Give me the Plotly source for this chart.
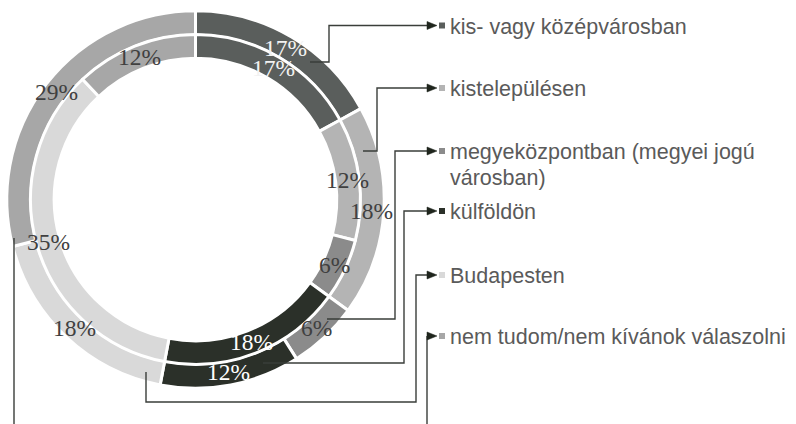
import math
import plotly.graph_objects as go

# ---- data ----
categories = ["kis- vagy középvárosban", "kistelepülésen",
              "megyeközpontban (megyei jogú városban)", "külföldön",
              "Budapesten", "nem tudom/nem kívánok válaszolni"]
outer_values = [17, 18, 6, 12, 18, 29]
inner_values = [17, 12, 6, 18, 35, 12]
legend_lines = [["kis- vagy középvárosban"], ["kistelepülésen"],
                ["megyeközpontban (megyei jogú", "városban)"], ["külföldön"],
                ["Budapesten"], ["nem tudom/nem kívánok válaszolni"]]

# ---- style / layout ----
W, H = 796, 424
colors = ["#5a5e5c", "#b4b4b4", "#8b8b8b", "#2b3029", "#d9d9d9", "#a7a7a7"]
label_colors = ["#f2f2f2", "#404040", "#404040", "#ffffff", "#404040", "#404040"]
CX, CY = 195.5, 199.5
GAP = 3
R_OUT_VIS, R_OUT_HOLE_VIS = 187.2, 166.0
R_IN_VIS, R_IN_HOLE_VIS = 163.5, 142.8
LINE_COLOR = "#3a3e3a"
arrow_y = [25.5, 88, 151, 211, 275, 336]
ARROW_X0, ARROW_X1 = 427, 437
SQ_X = 442
TEXT_X = 448
LINE_H = 26
leaders = [
    [(310, 62), (329, 62), (329, 25.5)],
    [(363, 151), (377, 151), (377, 88)],
    [(327, 319), (395, 319), (395, 151)],
    [(263, 363), (404, 363), (404, 211)],
    [(146, 372), (146, 402), (416, 402), (416, 275)],
    [(14, 238), (14, 440), (427, 440), (427, 336)],
]


def domain_for(r):
    return dict(x=[(CX - r) / W, (CX + r) / W],
                y=[1 - (CY + r) / H, 1 - (CY - r) / H])


fig = go.Figure()

r_out = R_OUT_VIS + GAP / 2
hole_out = (R_OUT_HOLE_VIS - GAP / 2) / r_out
r_in = R_IN_VIS + GAP / 2
hole_in = (R_IN_HOLE_VIS - GAP / 2) / r_in

for vals, r, hole in [(outer_values, r_out, hole_out), (inner_values, r_in, hole_in)]:
    fig.add_trace(go.Pie(
        labels=categories, values=vals, sort=False, direction="clockwise",
        rotation=0, hole=hole, domain=domain_for(r), textinfo="none",
        marker=dict(colors=colors, line=dict(color="white", width=GAP)),
        showlegend=False, hoverinfo="label+percent"))

# legend squares (also establishes the pixel-space cartesian axes)
fig.add_trace(go.Scatter(
    x=[SQ_X] * len(categories), y=arrow_y, mode="markers",
    marker=dict(symbol="square", size=6, color=colors, line=dict(width=0)),
    showlegend=False, hoverinfo="skip"))

annotations = []
# percent labels at slice mid-angles, ring centre radii
for vals, rmid in [(outer_values, (R_OUT_VIS + R_OUT_HOLE_VIS) / 2 - 0.5),
                   (inner_values, (R_IN_VIS + R_IN_HOLE_VIS) / 2)]:
    total = sum(vals)
    cum = 0
    for i, v in enumerate(vals):
        th = 2 * math.pi * (cum + v / 2) / total
        cum += v
        annotations.append(dict(
            x=CX + rmid * math.sin(th), y=CY - rmid * math.cos(th),
            xref="x", yref="y", text=f"{round(100 * v / total)}%",
            showarrow=False, xanchor="center", yanchor="middle",
            font=dict(family="Liberation Serif", size=23.5, color=label_colors[i])))

# legend texts
for i, lines in enumerate(legend_lines):
    for j, t in enumerate(lines):
        annotations.append(dict(
            x=TEXT_X, y=arrow_y[i] + 1 + j * LINE_H, xref="x", yref="y",
            text=t, showarrow=False, xanchor="left", yanchor="middle",
            font=dict(family="Liberation Sans", size=21.5, color="#5a5a5a")))

shapes = []
for i, pts in enumerate(leaders):
    path = "M{},{}".format(*pts[0])
    for p in pts[1:]:
        path += " L{},{}".format(*p)
    path += " L{},{}".format(ARROW_X0, arrow_y[i])
    shapes.append(dict(type="path", path=path, xref="x", yref="y", layer="above",
                       line=dict(color=LINE_COLOR, width=1.4)))
    ay = arrow_y[i]
    shapes.append(dict(type="path", xref="x", yref="y", layer="above",
                       path=f"M{ARROW_X0},{ay - 4} L{ARROW_X1},{ay} L{ARROW_X0},{ay + 4} Z",
                       fillcolor="#1f251d", line=dict(color="#1f251d", width=0.5)))

fig.update_layout(
    width=W, height=H, margin=dict(l=0, r=0, t=0, b=0),
    paper_bgcolor="white", plot_bgcolor="rgba(0,0,0,0)",
    xaxis=dict(range=[0, W], visible=False, fixedrange=True, domain=[0, 1]),
    yaxis=dict(range=[H, 0], visible=False, fixedrange=True, domain=[0, 1]),
    annotations=annotations, shapes=shapes, showlegend=False)

fig.write_html("out.html", config={"displayModeBar": False},
               post_script="document.body.style.margin='0';document.body.style.overflow='hidden';")
